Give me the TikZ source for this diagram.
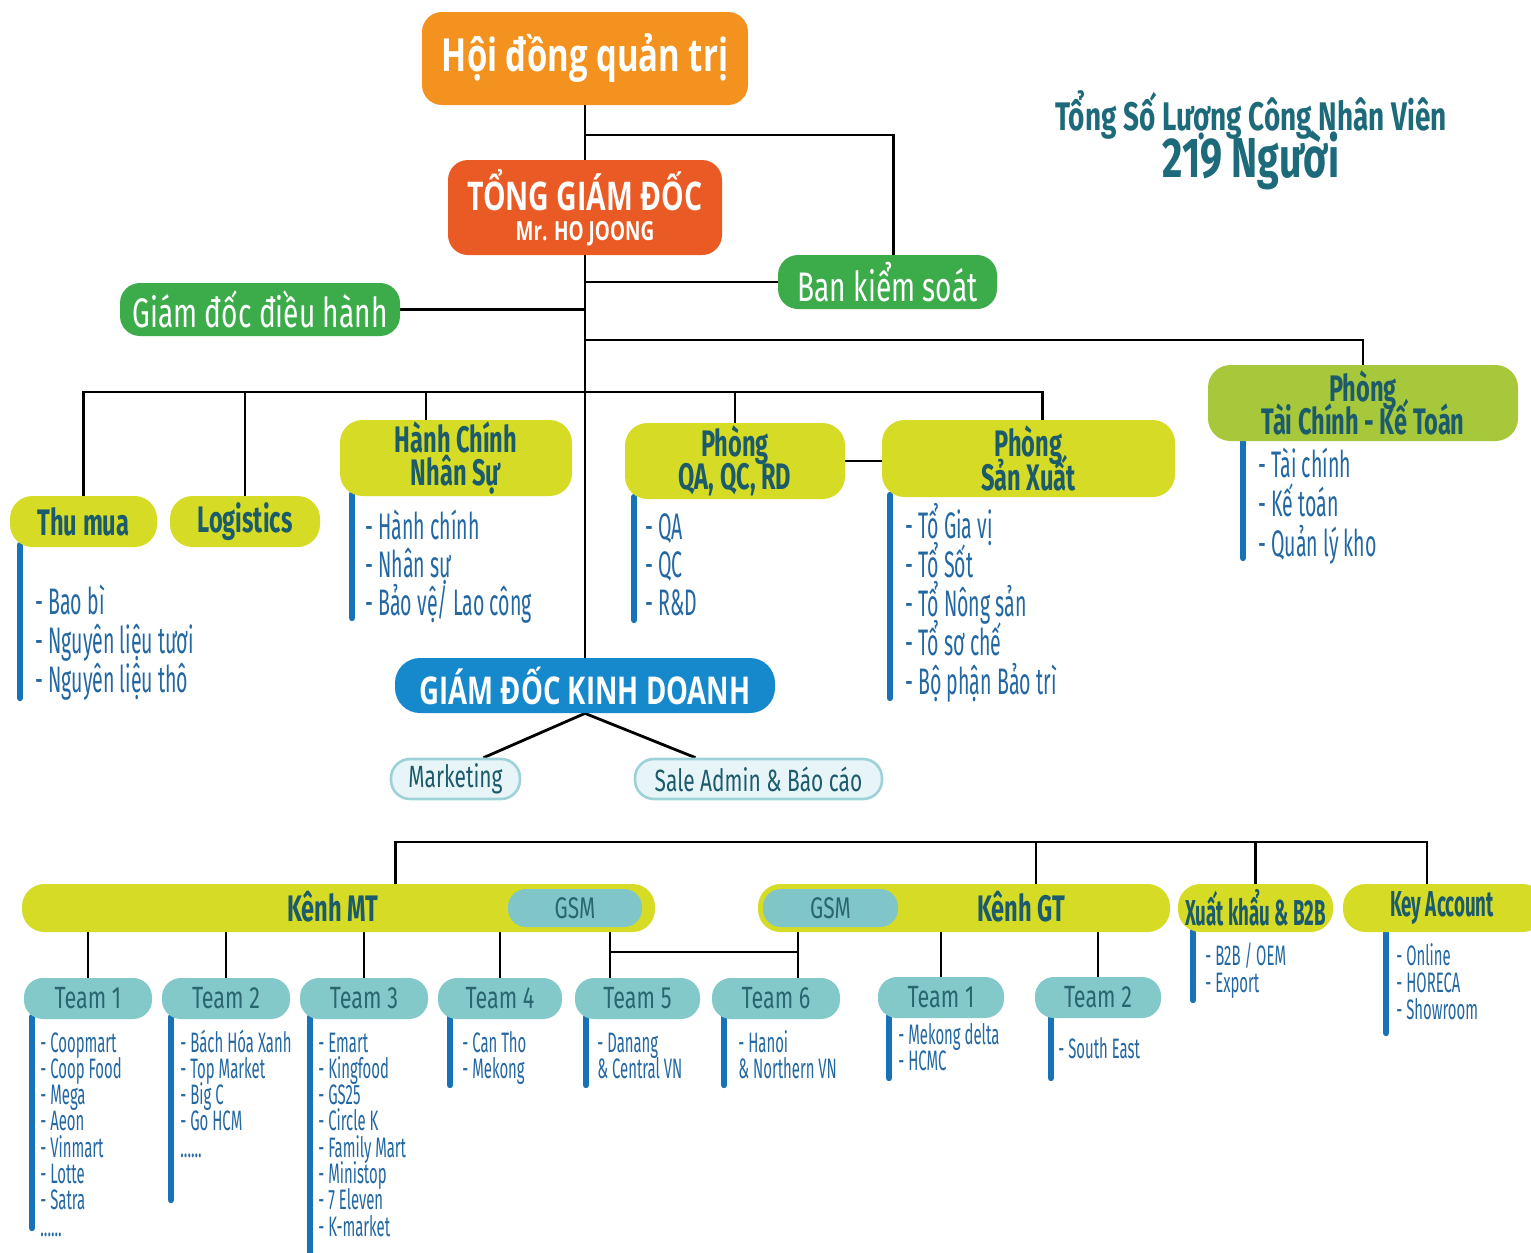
\documentclass[tikz,border=0pt]{standalone}
\usepackage{fontspec}
\usetikzlibrary{calc,backgrounds}
\newfontfamily\fHead[FakeStretch=0.72]{Open Sans}
\newfontfamily\fFira[FakeStretch=0.68]{Fira Sans}
\newfontfamily\fBold[FakeStretch=0.64]{Fira Sans}
\newfontfamily\fBoldN[FakeStretch=0.52]{Fira Sans}
\newfontfamily\fList[FakeStretch=0.53]{Fira Sans}
\newfontfamily\fTeam[FakeStretch=0.7]{Fira Sans}
\newfontfamily\fTitle[FakeStretch=0.7]{Fira Sans}
\definecolor{cOrange}{HTML}{F4921F}
\definecolor{cRed}{HTML}{EA5A24}
\definecolor{cGreen}{HTML}{3CAB4A}
\definecolor{cLime}{HTML}{A7C83A}
\definecolor{cYellow}{HTML}{D6DC26}
\definecolor{cBlue}{HTML}{1589CB}
\definecolor{cTeam}{HTML}{84C9C9}
\definecolor{cGsm}{HTML}{80C6C8}
\definecolor{cLight}{HTML}{E8F5F8}
\definecolor{cLightB}{HTML}{9ED2D8}
\definecolor{cHead}{HTML}{1B5B6B}
\definecolor{cTeamTxt}{HTML}{2A6670}
\definecolor{cList}{HTML}{2368A2}
\definecolor{cBar}{HTML}{1872B8}
\definecolor{cTitle}{HTML}{1D6A7A}
\newcommand\sixdots{.\kern0pt.\kern0pt.\kern0pt.\kern0pt.\kern0pt.}
\newcommand\mylist[6]{\foreach \t [count=\i] in {#6} {\node[#5] (#1\i) at (#2,{#3+#4*(\i-1)}) {\t};}}
\tikzset{
 wh/.style 2 args={minimum width=#1*0.02cm, minimum height=#2*0.02cm},
 conn/.style={line width=1.6pt, draw=black},
 bar/.style={line width=3.6pt, draw=cBar, line cap=round},
 box/.style={inner sep=0pt, align=center},
 ybox/.style={box, fill=cYellow, rounded corners=0.45cm, text=cHead, font={\fBold\bfseries\fontsize{21pt}{19pt}\selectfont\lineskiplimit=-100pt}},
 ynbox/.style={ybox, font={\fBoldN\bfseries\fontsize{20.5pt}{18pt}\selectfont}},
 tbox/.style={box, fill=cTeam, rounded corners=0.38cm, text=cTeamTxt, font={\fTeam\fontsize{17.5pt}{18pt}\selectfont}},
 gsmbox/.style={box, fill=cGsm, rounded corners=0.36cm, text=cTeamTxt, font={\fTeam\fontsize{17pt}{18pt}\selectfont}},
 gbox/.style={box, fill=cGreen, rounded corners=0.4cm, text=white, font={\fFira\fontsize{23.5pt}{26pt}\selectfont}},
 lbox/.style={box, fill=cLight, draw=cLightB, line width=1.5pt, rounded corners=0.38cm, text=cHead, font={\fFira\fontsize{17.5pt}{20pt}\selectfont}},
 li/.style={anchor=base west, inner sep=0pt, text=cList, font={\fList\fontsize{21pt}{24pt}\selectfont}},
 lis/.style={li, font={\fList\fontsize{16pt}{18pt}\selectfont}},
 lbl/.style={inner sep=0pt, text=cHead, font={\fBold\bfseries\fontsize{21pt}{24pt}\selectfont}},
}
\begin{document}
\begin{tikzpicture}[x=0.02cm, y=-0.02cm]
\useasboundingbox (0,0) rectangle (1531,1252);
% top
\node[box, wh={326}{93}, fill=cOrange, rounded corners=0.4cm, text=white, font={\fHead\bfseries\fontsize{26pt}{30pt}\selectfont}] (hdqt) at (585,58.5) {Hội đồng quản trị};
\node[box, wh={274}{95}, fill=cRed, rounded corners=0.4cm, text=white, font={\fHead\bfseries\fontsize{22.5pt}{17pt}\selectfont\lineskiplimit=-100pt}] (tgd) at (585,207.5) {TỔNG GIÁM ĐỐC\\{\fontsize{15pt}{17pt}\selectfont Mr. HO JOONG}};
\node[gbox, wh={280}{53}] (gddh) at (260,309.5) {Giám đốc điều hành};
\node[gbox, wh={219}{54}] (bks) at (887.5,282) {Ban kiểm soát};
\node[ybox, wh={310}{76}, fill=cLime] (tc) at (1363,403) {Phòng\\Tài Chính - Kế Toán};
\node[ybox, wh={147}{51}] (thumua) at (83.5,521.5) {Thu mua};
\node[ybox, wh={150}{51}] (logi) at (245,521.5) {Logistics};
\node[ybox, wh={232}{76}] (hcns) at (456,458) {Hành Chính\\Nhân Sự};
\node[ybox, wh={220}{76}] (qa) at (735,461) {Phòng\\QA, QC, RD};
\node[ybox, wh={293}{77}] (sx) at (1028.5,458.5) {Phòng\\Sản Xuất};
\node[box, wh={380}{55}, fill=cBlue, rounded corners=0.5cm, text=white, font={\fHead\bfseries\fontsize{21.8pt}{24pt}\selectfont}] (gdkd) at (585,685.5) {GIÁM ĐỐC KINH DOANH};
\node[lbox, wh={129}{40}] (mkt) at (455.5,779) {Marketing};
\node[lbox, wh={247}{40}] (sa) at (758.5,779) {Sale Admin \& Báo cáo};
% title
\node[anchor=base, inner sep=0pt, text=cTitle, font={\fTitle\bfseries\fontsize{22.7pt}{26pt}\selectfont}] (title1) at (1251,130) {Tổng Số Lượng Công Nhân Viên};
\node[anchor=base, inner sep=0pt, text=cTitle, font={\fTitle\bfseries\fontsize{32pt}{36pt}\selectfont}] (title2) at (1251,177) {219 Người};
% channels
\node[ybox, wh={633}{48}] (mt) at (338.5,908) {};
\node[gsmbox, wh={134}{38}] (gsm1) at (575,908) {GSM};
\node[lbl] (mtl) at (333,907) {Kênh MT};
\node[ybox, wh={412}{48}] (gt) at (964,908) {};
\node[gsmbox, wh={135}{38}] (gsm2) at (830.5,908) {GSM};
\node[lbl] (gtl) at (1021,907) {Kênh GT};
\node[ynbox, wh={155}{48}] (xk) at (1255.5,908) {Xuất khẩu \& B2B};
\node[ynbox, wh={202}{48}] (ka) at (1444,908) {\hspace*{-0.08cm}Key Account};
% teams
\node[tbox, wh={128}{41}] (t1) at (88,998.5) {Team 1};
\node[tbox, wh={128}{41}] (t2) at (226,998.5) {Team 2};
\node[tbox, wh={128}{41}] (t3) at (364,998.5) {Team 3};
\node[tbox, wh={124}{41}] (t4) at (500,998.5) {Team 4};
\node[tbox, wh={125}{41}] (t5) at (637.5,998.5) {Team 5};
\node[tbox, wh={128}{41}] (t6) at (776,998.5) {Team 6};
\node[tbox, wh={126}{41}] (g1) at (941,997.5) {Team 1};
\node[tbox, wh={126}{41}] (g2) at (1098,997.5) {Team 2};
% coordinates
\coordinate (j1) at (585,135);
\coordinate (j2) at (585,340);
\coordinate (j3) at (585,392);
\coordinate (j4) at (585,842);
\coordinate (c5) at (610,952);
\coordinate (c6) at (798,952);
\coordinate (bkstop) at ($(bks.north)+(6,0)$);
\coordinate (sxtop) at ($(sx.north)+(14,0)$);
\coordinate (hctop) at ($(hcns.north)+(-30,0)$);
\coordinate (mttop) at ($(mt.north)+(57,0)$);
\coordinate (gttop) at ($(gt.north)+(72,0)$);
\coordinate (katop) at ($(ka.north)+(-17,0)$);
\begin{pgfonlayer}{background}
\fill[white] (0,0) rectangle (1531,1252);
\draw[conn] (hdqt.south) -- (tgd.north);
\draw[conn] (tgd.south) -- (gdkd.north);
\draw[conn] (j1) -| (bkstop);
\draw[conn] (bks.west -| tgd.south) -- (bks.west);
\draw[conn] (gddh.east) -- (gddh.east -| tgd.south);
\draw[conn] (j2) -| (tc.north);
\draw[conn] (thumua.north) -- (thumua.north |- j3) -- (j3 -| sxtop) -- (sxtop);
\draw[conn] (logi.north) -- (logi.north |- j3);
\draw[conn] (hctop) -- (hctop |- j3);
\draw[conn] (qa.north) -- (qa.north |- j3);
\draw[conn] (qa.east) -- (qa.east -| sx.west);
\draw[conn] (gdkd.south) -- ($(mkt.north)+(28,0)$);
\draw[conn] (gdkd.south) -- ($(sa.north)+(-63,0)$);
\draw[conn] (mttop) -- (mttop |- j4) -- (j4 -| katop) -- (katop);
\draw[conn] (gttop) -- (gttop |- j4);
\draw[conn] (xk.north) -- (xk.north |- j4);
\foreach \n in {t1,t2,t3,t4} \draw[conn] (\n.north) -- (\n.north |- mt.south);
\draw[conn] (c5 |- gsm1.south) -- (c5 |- t5.north);
\draw[conn] (c6 |- gsm2.south) -- (c6 |- t6.north);
\draw[conn] (c5) -- (c6);
\draw[conn] (g1.north) -- (g1.north |- gt.south);
\draw[conn] (g2.north) -- (g2.north |- gt.south);
% bars
\draw[bar] (20,545) -- (20,698);
\draw[bar] (352,494) -- (352,618);
\draw[bar] (634,497) -- (634,620);
\draw[bar] (890,495) -- (890,698);
\draw[bar] (1243,439) -- (1243,558);
\draw[bar] (32,1017) -- (32,1228);
\draw[bar] (171,1017) -- (171,1200);
\draw[bar] (310,1017) -- (310,1256);
\draw[bar] (450,1017) -- (450,1085);
\draw[bar] (586,1017) -- (586,1085);
\draw[bar] (724,1017) -- (724,1085);
\draw[bar] (889,1016) -- (889,1078);
\draw[bar] (1051,1016) -- (1051,1078);
\draw[bar] (1193,930) -- (1193,1000);
\draw[bar] (1386,930) -- (1386,1033);
\end{pgfonlayer}
% lists
\mylist{ltm}{35}{614}{39}{li}{- Bao bì, - Nguyên liệu tươi, - Nguyên liệu thô}
\mylist{lhc}{365}{539}{38}{li}{- Hành chính, - Nhân sự, - Bảo vệ/ Lao công}
\mylist{lqa}{645}{539}{38}{li}{- QA, - QC, - R\&D}
\mylist{lsx}{905}{538}{39}{li}{- Tổ Gia vị, - Tổ Sốt, - Tổ Nông sản, - Tổ sơ chế, - Bộ phận Bảo trì}
\mylist{ltc}{1258}{477}{39.5}{li}{- Tài chính, - Kế toán, - Quản lý kho}
\mylist{lt1}{40}{1052}{26.3}{lis}{- Coopmart, - Coop Food, - Mega, - Aeon, - Vinmart, - Lotte, - Satra, \sixdots}
\mylist{lt2}{180}{1052}{26.3}{lis}{- Bách Hóa Xanh, - Top Market, - Big C, - Go HCM, \sixdots}
\mylist{lt3}{318}{1052}{26.3}{lis}{- Emart, - Kingfood, - GS25, - Circle K, - Family Mart, - Ministop, - 7 Eleven, - K-market}
\mylist{lt4}{462}{1052}{26}{lis}{- Can Tho, - Mekong}
\mylist{lt5}{597}{1052}{26}{lis}{- Danang, \& Central VN}
\mylist{lt6}{738}{1052}{26}{lis}{- Hanoi, \& Northern VN}
\mylist{lg1}{898}{1044}{26.5}{lis}{- Mekong delta, - HCMC}
\mylist{lg2}{1058}{1058}{25}{lis}{- South East}
\mylist{lxk}{1205}{965}{27}{lis}{- B2B / OEM, - Export}
\mylist{lka}{1396}{965}{27}{lis}{- Online, - HORECA, - Showroom}
\end{tikzpicture}
\end{document}
